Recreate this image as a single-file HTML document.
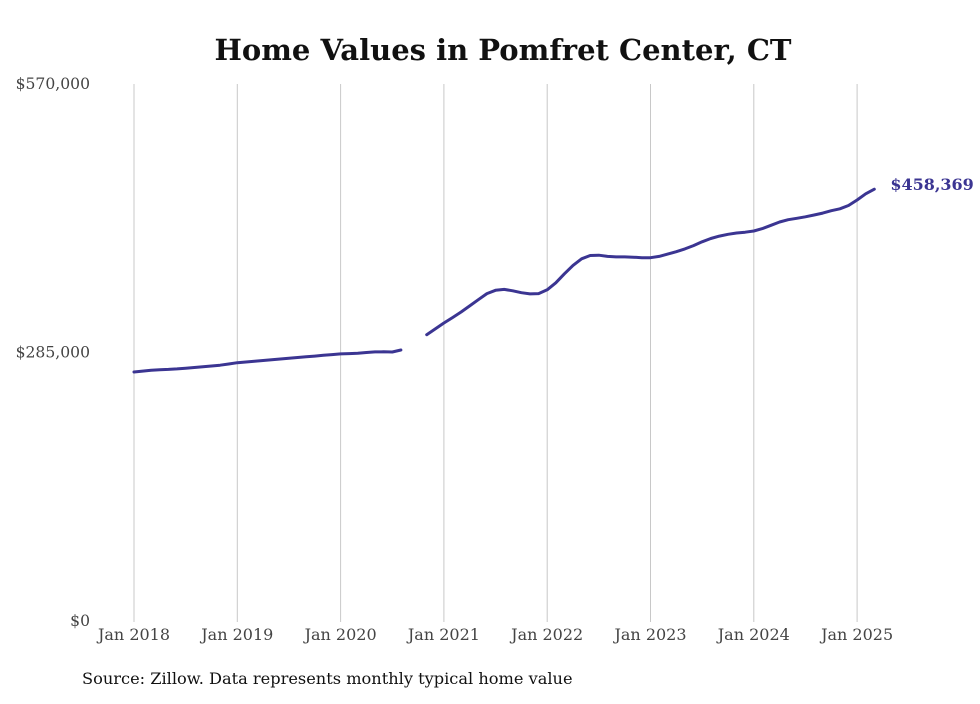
<!DOCTYPE html>
<html><head><meta charset="utf-8"><style>
body{margin:0;background:#fff;}
svg text{font-family:"DejaVu Serif","Liberation Serif",serif;}
</style></head><body>
<svg width="980" height="699" viewBox="0 0 980 699">
<rect width="980" height="699" fill="#fff"/>
<text x="503" y="60" text-anchor="middle" font-size="29" font-weight="bold" fill="#111">Home Values in Pomfret Center, CT</text>
<g id="grid"></g>
<g id="yaxis"></g>
<g id="xaxis"></g>
<g id="series"></g>
<text x="82" y="684" font-size="16.2" fill="#111">Source: Zillow. Data represents monthly typical home value</text>
</svg>
<script>
const yTicks = [0, 285000, 570000];
const yTickLabels = ["$0", "$285,000", "$570,000"];
const xTickYears = [2018, 2019, 2020, 2021, 2022, 2023, 2024, 2025];
const xTickLabels = ["Jan 2018","Jan 2019","Jan 2020","Jan 2021","Jan 2022","Jan 2023","Jan 2024","Jan 2025"];
const startYear = 2018;
const values2018 = [264300,265300,266200,266700,267100,267600,268300,269100,269900,270700,271500,272800];
const values2019 = [274200,274900,275700,276500,277300,278100,278900,279700,280400,281200,282000,282800];
const values2020 = [283500,283800,284200,285000,285600,285700,285500,287700,null,null,303900,310000];
const values2021 = [316300,322000,328000,334500,341000,347500,351000,352000,350500,348500,347200,347500];
const values2022 = [351500,359000,368500,377500,384500,388000,388300,387000,386500,386500,386200,385600];
const values2023 = [385600,387000,389500,392000,395000,398500,402500,406000,408500,410500,411800,412700];
const values2024 = [414000,416500,420000,423500,426000,427500,429000,431000,433000,435500,437500,441000];
const values2025 = [446900,453500,458369];
const lastLabel = "$458,369";

const values = [].concat(values2018,values2019,values2020,values2021,values2022,values2023,values2024,values2025);
const NS = "http://www.w3.org/2000/svg";
const x0 = 134, pxPerYear = 103.3, yBase = 621, yTop = 84, yMax = 570000;
function xScale(monthIndex){ return x0 + monthIndex * pxPerYear / 12; }
function yScale(v){ return yBase - v / yMax * (yBase - yTop); }
function mk(tag, attrs, parent){ const e=document.createElementNS(NS,tag); for(const k in attrs) e.setAttribute(k,attrs[k]); parent.appendChild(e); return e; }

const grid = document.getElementById('grid'), xa = document.getElementById('xaxis'), ya = document.getElementById('yaxis'), ser = document.getElementById('series');
xTickYears.forEach((yr,i)=>{
  const x = xScale((yr-startYear)*12);
  const l = mk('line',{x1:x,x2:x,y1:yTop,y2:yBase+1,stroke:'#c8c8c8','stroke-width':1},grid);
  
  
  const t = mk('text',{x:x,y:640,'text-anchor':'middle','font-size':16,fill:'#444'},xa);
  t.textContent = xTickLabels[i];
  
  
});
yTicks.forEach((v,i)=>{
  const t = mk('text',{x:90,y:yScale(v)+5,'text-anchor':'end','font-size':15.6,fill:'#444'},ya);
  t.textContent = yTickLabels[i];
  
  
});
let segs=[], cur=[];
values.forEach((v,i)=>{ if(v==null){ if(cur.length) segs.push(cur); cur=[]; } else cur.push([xScale(i),yScale(v)]); });
if(cur.length) segs.push(cur);
segs.forEach((s,k)=>{
  const p = mk('path',{d:'M'+s.map(q=>q[0].toFixed(1)+','+q[1].toFixed(1)).join('L'),fill:'none',stroke:'#3b3592','stroke-width':3,'stroke-linejoin':'round','stroke-linecap':'round'},ser);
  
  
});
const li = values.length-1;
const lab = mk('text',{x:xScale(li)+16,y:yScale(values[li])+1,'font-size':16,'font-weight':'bold',fill:'#3b3592'},ser);
lab.textContent = lastLabel;


</script>
</body></html>
